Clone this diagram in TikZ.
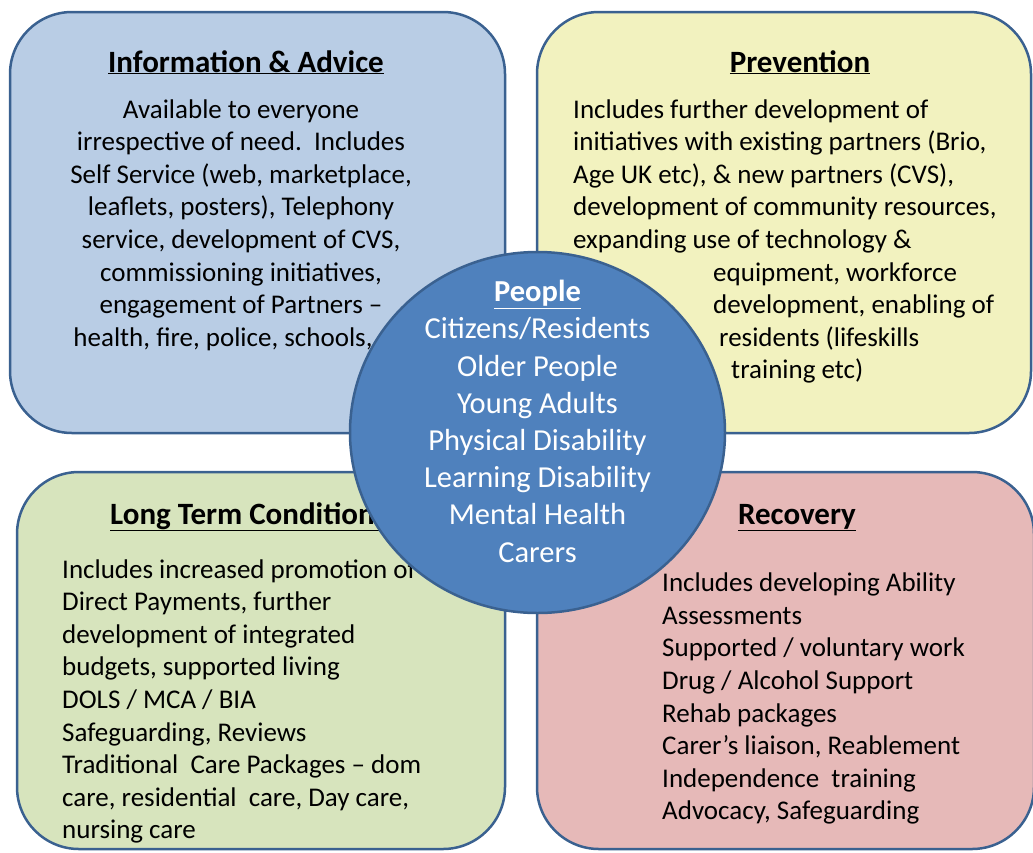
\documentclass[tikz,border=0pt]{standalone}
\usepackage{fontspec}
\setmainfont{Carlito}
\usetikzlibrary{shapes.geometric}

\definecolor{infofill}{HTML}{B9CDE5}
\definecolor{prevfill}{HTML}{F2F2BF}
\definecolor{ltcfill}{HTML}{D7E4BD}
\definecolor{recfill}{HTML}{E6B9B8}
\definecolor{hubfill}{HTML}{4F81BD}
\definecolor{rim}{HTML}{3A6190}

\newcommand{\bodyfont}{\fontsize{27}{32.6}\selectfont}
\newcommand{\headfont}{\fontsize{31}{36}\selectfont\bfseries}
\newcommand{\hubfont}{\fontsize{30.5}{37.2}\selectfont}

\tikzset{
  quad/.style={draw=rim, line width=2.5pt, rounded corners=62pt, inner sep=0pt},
  heading/.style={anchor=base, inner sep=0pt, font=\headfont},
  bodytext/.style={inner sep=0pt, font=\bodyfont},
}

\begin{document}
\begin{tikzpicture}[x=1pt, y=-1pt]
    \useasboundingbox (0,0) rectangle (1033,852);

    % four quarters
    \node[quad, fill=infofill, minimum width=495pt, minimum height=421pt] (info) at (257.5,222.5) {};
    \node[quad, fill=prevfill, minimum width=494pt, minimum height=421pt] (prev) at (784,222.5) {};
    \node[quad, fill=ltcfill, minimum width=488pt, minimum height=377pt] (ltc) at (261,660.5) {};
    \node[quad, fill=recfill, minimum width=497pt, minimum height=377pt] (rec) at (785.5,660.5) {};

    % headings
    \node[heading] (infohead) at (246,72) {\underline{Information \& Advice}};
    \node[heading] (prevhead) at (800,72) {\underline{Prevention}};
    \node[heading, anchor=base west] (ltchead) at (110,524) {\underline{Long Term Conditions}};
    \node[heading] (rechead) at (797,524) {\underline{Recovery}};

    % texts (anchored on their last line)
    \node[bodytext, align=center, anchor=base] (infotext) at (241,346.2)
      {Available to everyone\\ irrespective of need.~~Includes\\ Self Service (web, marketplace,\\
       leaflets, posters), Telephony\\ service, development of CVS,\\ commissioning initiatives,\\
       engagement of Partners --\\ health, fire, police, schools,\hspace*{36pt}};
    \node[bodytext, align=left, anchor=base west] (prevtext) at (573,378.8)
      {Includes further development of\\ initiatives with existing partners (Brio,\\
       Age UK etc), \& new partners (CVS),\\ development of community resources,\\
       expanding use of technology \&\\ \hspace*{140pt}equipment, workforce\\
       \hspace*{140pt}development, enabling of\\ \hspace*{146pt}residents (lifeskills\\
       \hspace*{158pt}training etc)};
    \node[bodytext, align=left, anchor=base west] (ltctext) at (62,838.8)
      {Includes increased promotion of\\ Direct Payments, further\\ development of integrated\\
       budgets, supported living\\ DOLS / MCA / BIA\\ Safeguarding, Reviews\\
       Traditional~~Care Packages -- dom\\ care, residential~~care, Day care,\\ nursing care};
    \node[bodytext, align=left, anchor=base west] (rectext) at (662,819.9)
      {Includes developing Ability\\ Assessments\\ Supported / voluntary work\\
       Drug / Alcohol Support\\ Rehab packages\\ Carer’s liaison, Reablement\\
       Independence~~training\\ Advocacy, Safeguarding};

    % people in the middle
    \node[ellipse, draw=rim, line width=2.5pt, fill=hubfill, minimum width=375pt, minimum height=361pt] (hub) at (537.5,432.5) {};
    \node[font=\hubfont, text=white, align=center, anchor=base, inner sep=0pt] (hubtext) at (537.5,562)
      {\textbf{\underline{People}}\\ Citizens/Residents\\ Older People\\ Young Adults\\
       Physical Disability\\ Learning Disability\\ Mental Health\\ Carers};
\end{tikzpicture}
\end{document}
